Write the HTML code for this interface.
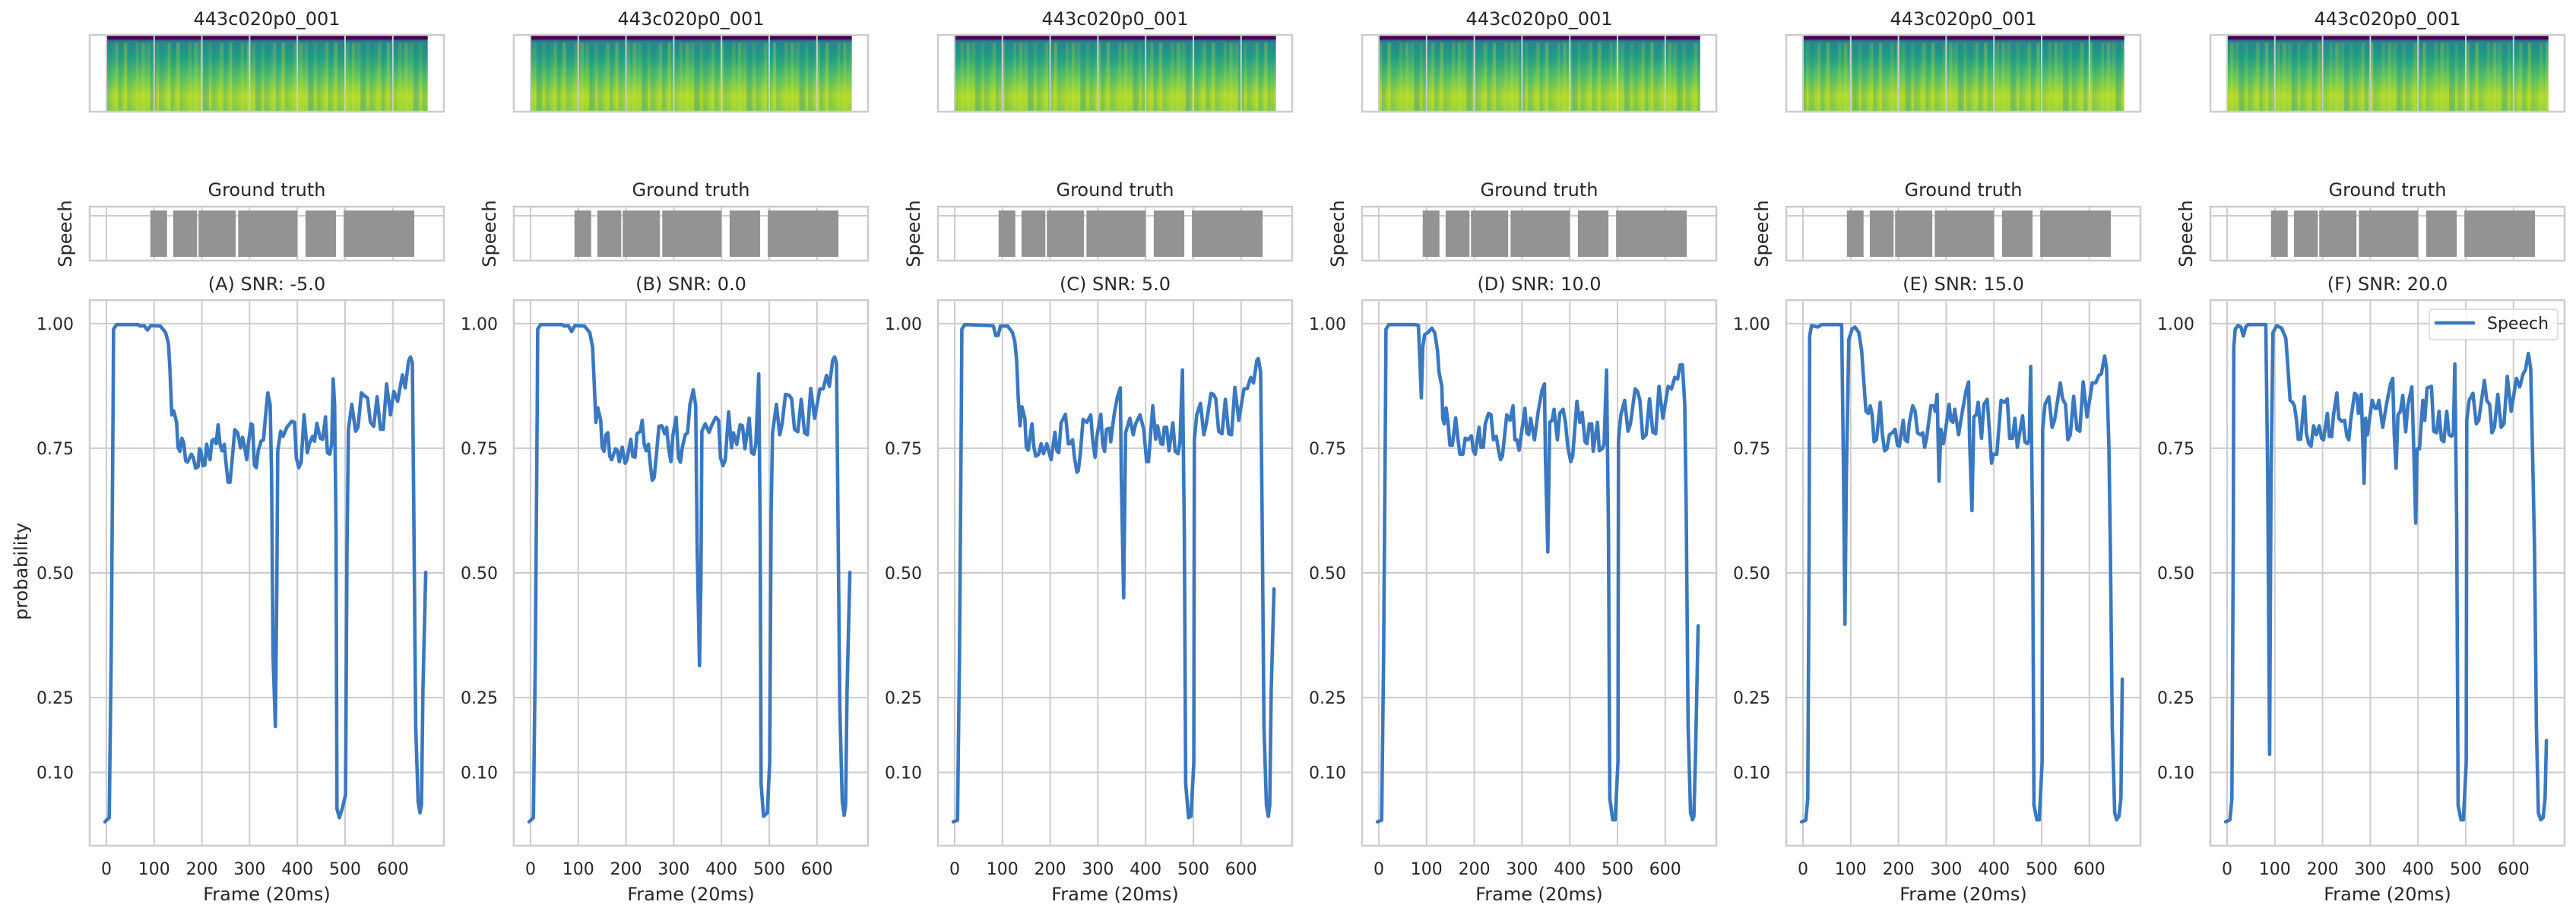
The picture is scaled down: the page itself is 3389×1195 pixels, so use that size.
<!DOCTYPE html>
<html><head><meta charset="utf-8">
<style>
html,body{margin:0;padding:0;background:#fff;}
svg{display:block;font-family:"DejaVu Sans","Liberation Sans",sans-serif;}
</style></head>
<body>
<svg id="fig" width="3389" height="1195" viewBox="0 0 3389 1195" xmlns="http://www.w3.org/2000/svg">
<defs>
<linearGradient id="specGrad" x1="0" y1="0" x2="0" y2="1">
<stop offset="0" stop-color="#440154"/>
<stop offset="0.05" stop-color="#3b3f85"/>
<stop offset="0.09" stop-color="#26858e"/>
<stop offset="0.3" stop-color="#23a085"/>
<stop offset="0.55" stop-color="#5ec462"/>
<stop offset="0.8" stop-color="#b0da30"/>
<stop offset="1" stop-color="#8fd444"/>
</linearGradient>
</defs>
</svg>
<script>
// ---- data ----
const panelTitles = ["(A) SNR: -5.0","(B) SNR: 0.0","(C) SNR: 5.0","(D) SNR: 10.0","(E) SNR: 15.0","(F) SNR: 20.0"];
const specTitle = "443c020p0_001";
const xTicks = [0,100,200,300,400,500,600];
const yTicks = [0.10,0.25,0.50,0.75,1.00];
const yTickLabels = ["0.10","0.25","0.50","0.75","1.00"];
const gtStart = [92,140,193,276,417,497];
const gtEnd   = [127,190,271,400,481,645];

const seriesA = [[-3,0.001],[6,0.009],[10,0.335],[14,0.838],[15,0.989],[21,0.998],[66,0.998],[71,0.995],[79,0.996],[86,0.987],[93,0.996],[113,0.995],[124,0.982],[130,0.960],[133,0.910],[137,0.817],[141,0.825],[147,0.802],[150,0.752],[154,0.744],[158,0.770],[162,0.761],[166,0.725],[170,0.722],[178,0.738],[182,0.731],[187,0.710],[192,0.713],[195,0.749],[198,0.745],[202,0.715],[206,0.716],[210,0.758],[214,0.738],[217,0.727],[221,0.765],[225,0.768],[230,0.759],[234,0.797],[238,0.758],[242,0.745],[247,0.758],[251,0.716],[255,0.682],[259,0.682],[263,0.723],[269,0.787],[275,0.781],[281,0.751],[285,0.772],[289,0.756],[294,0.727],[298,0.763],[303,0.799],[306,0.797],[310,0.716],[314,0.711],[318,0.745],[324,0.764],[329,0.767],[334,0.820],[338,0.861],[343,0.838],[346,0.695],[349,0.335],[354,0.192],[357,0.479],[359,0.745],[365,0.784],[370,0.774],[378,0.792],[388,0.804],[394,0.802],[398,0.731],[403,0.711],[408,0.722],[414,0.817],[421,0.741],[425,0.759],[432,0.774],[436,0.764],[441,0.800],[448,0.770],[453,0.768],[459,0.813],[463,0.741],[468,0.738],[472,0.759],[475,0.889],[478,0.838],[481,0.587],[483,0.027],[488,0.009],[494,0.027],[501,0.055],[504,0.551],[507,0.788],[514,0.838],[522,0.784],[527,0.792],[534,0.861],[542,0.854],[547,0.851],[553,0.802],[560,0.794],[567,0.853],[574,0.788],[580,0.788],[587,0.879],[595,0.817],[602,0.864],[610,0.844],[620,0.897],[626,0.871],[633,0.925],[637,0.933],[641,0.921],[644,0.623],[648,0.192],[653,0.041],[657,0.019],[660,0.034],[663,0.264],[669,0.501]];

const seriesB = [[-3,0.001],[6,0.009],[10,0.335],[14,0.838],[15,0.989],[21,0.998],[66,0.998],[71,0.995],[79,0.996],[86,0.984],[93,0.996],[113,0.995],[124,0.982],[130,0.953],[133,0.889],[137,0.802],[141,0.831],[147,0.806],[150,0.752],[154,0.744],[158,0.777],[162,0.781],[166,0.734],[170,0.727],[178,0.749],[182,0.745],[186,0.723],[192,0.752],[198,0.720],[202,0.727],[210,0.768],[214,0.734],[219,0.732],[223,0.779],[230,0.784],[234,0.806],[238,0.759],[242,0.745],[247,0.758],[251,0.716],[255,0.686],[259,0.691],[263,0.731],[269,0.794],[275,0.795],[281,0.779],[285,0.792],[289,0.752],[294,0.723],[298,0.774],[305,0.812],[310,0.731],[314,0.722],[318,0.752],[324,0.777],[329,0.781],[334,0.838],[341,0.867],[346,0.835],[349,0.551],[354,0.314],[357,0.494],[359,0.784],[366,0.799],[374,0.782],[379,0.795],[388,0.812],[394,0.806],[398,0.731],[403,0.715],[408,0.727],[415,0.823],[421,0.751],[425,0.781],[432,0.758],[439,0.797],[444,0.795],[449,0.749],[458,0.810],[463,0.741],[468,0.738],[472,0.759],[478,0.899],[481,0.587],[483,0.077],[488,0.012],[496,0.019],[501,0.120],[504,0.623],[507,0.781],[515,0.838],[522,0.777],[527,0.799],[534,0.858],[542,0.856],[547,0.849],[553,0.788],[560,0.783],[567,0.848],[574,0.781],[580,0.777],[587,0.870],[595,0.810],[606,0.869],[613,0.869],[620,0.896],[626,0.874],[633,0.926],[637,0.933],[641,0.921],[644,0.623],[648,0.228],[653,0.041],[657,0.014],[660,0.034],[663,0.264],[669,0.501]];

const seriesC = [[-3,0.001],[6,0.004],[10,0.335],[14,0.838],[15,0.989],[21,0.998],[76,0.996],[81,0.995],[86,0.976],[91,0.976],[96,0.995],[111,0.995],[121,0.982],[126,0.964],[130,0.925],[133,0.853],[137,0.795],[141,0.833],[147,0.810],[150,0.752],[154,0.746],[162,0.799],[166,0.752],[170,0.734],[176,0.738],[181,0.759],[186,0.739],[193,0.759],[198,0.741],[202,0.727],[210,0.782],[214,0.745],[218,0.741],[223,0.801],[232,0.818],[238,0.759],[242,0.759],[247,0.767],[251,0.731],[256,0.702],[259,0.705],[263,0.738],[269,0.808],[277,0.802],[285,0.817],[289,0.767],[294,0.732],[298,0.774],[306,0.818],[310,0.759],[314,0.744],[318,0.788],[325,0.790],[327,0.763],[334,0.817],[341,0.853],[347,0.871],[349,0.695],[354,0.450],[358,0.781],[367,0.810],[374,0.777],[379,0.799],[388,0.817],[396,0.788],[402,0.723],[406,0.723],[415,0.835],[421,0.768],[425,0.795],[432,0.759],[436,0.758],[439,0.792],[444,0.792],[449,0.745],[457,0.801],[462,0.744],[468,0.739],[472,0.763],[477,0.907],[481,0.587],[484,0.077],[490,0.009],[495,0.012],[501,0.120],[502,0.767],[507,0.817],[515,0.840],[522,0.777],[527,0.799],[537,0.860],[542,0.858],[547,0.849],[553,0.784],[560,0.779],[567,0.848],[574,0.779],[580,0.777],[587,0.872],[595,0.806],[606,0.869],[613,0.870],[620,0.892],[626,0.881],[633,0.926],[636,0.930],[641,0.903],[644,0.623],[648,0.192],[653,0.034],[657,0.012],[660,0.034],[663,0.264],[669,0.468]];

const seriesD = [[-3,0.001],[6,0.004],[10,0.335],[14,0.838],[15,0.989],[21,0.998],[76,0.998],[83,0.996],[86,0.925],[89,0.851],[92,0.953],[96,0.978],[103,0.982],[111,0.991],[117,0.982],[123,0.946],[126,0.903],[132,0.874],[134,0.810],[137,0.799],[141,0.831],[145,0.802],[149,0.756],[154,0.756],[161,0.811],[165,0.774],[170,0.738],[176,0.738],[181,0.770],[187,0.767],[194,0.775],[198,0.745],[202,0.738],[210,0.792],[214,0.752],[219,0.752],[223,0.799],[230,0.820],[235,0.817],[240,0.767],[246,0.774],[251,0.745],[255,0.727],[259,0.734],[268,0.817],[275,0.806],[281,0.835],[285,0.767],[289,0.767],[294,0.746],[298,0.774],[306,0.830],[310,0.781],[314,0.777],[318,0.810],[326,0.767],[334,0.824],[342,0.867],[347,0.879],[349,0.731],[354,0.542],[358,0.802],[363,0.806],[367,0.828],[374,0.767],[379,0.820],[386,0.828],[391,0.802],[396,0.752],[402,0.723],[406,0.734],[415,0.844],[421,0.802],[426,0.822],[432,0.763],[436,0.759],[441,0.799],[446,0.799],[449,0.744],[458,0.802],[462,0.745],[468,0.749],[472,0.759],[477,0.907],[481,0.587],[484,0.048],[490,0.005],[495,0.005],[501,0.120],[502,0.767],[507,0.817],[515,0.846],[522,0.784],[527,0.799],[537,0.869],[542,0.864],[547,0.846],[553,0.770],[560,0.777],[567,0.849],[574,0.782],[580,0.779],[587,0.874],[595,0.810],[606,0.874],[613,0.869],[620,0.892],[626,0.889],[631,0.917],[636,0.917],[641,0.838],[644,0.623],[648,0.192],[653,0.019],[657,0.005],[660,0.012],[663,0.120],[669,0.394]];

const seriesE = [[-3,0.001],[6,0.004],[10,0.048],[13,0.551],[14,0.975],[18,0.996],[31,0.993],[39,0.998],[81,0.998],[85,0.695],[88,0.397],[91,0.695],[96,0.968],[103,0.989],[109,0.993],[117,0.982],[123,0.946],[126,0.903],[132,0.824],[137,0.820],[141,0.835],[145,0.817],[149,0.763],[154,0.767],[162,0.842],[166,0.781],[171,0.745],[176,0.749],[181,0.777],[187,0.781],[193,0.788],[198,0.756],[202,0.754],[210,0.806],[214,0.767],[219,0.763],[223,0.802],[230,0.835],[235,0.824],[240,0.781],[246,0.777],[251,0.781],[255,0.752],[259,0.770],[268,0.835],[275,0.835],[277,0.824],[281,0.858],[285,0.684],[289,0.788],[294,0.759],[298,0.781],[306,0.838],[310,0.806],[314,0.802],[318,0.828],[326,0.777],[334,0.824],[342,0.867],[347,0.883],[349,0.767],[354,0.625],[358,0.813],[363,0.817],[367,0.842],[374,0.770],[379,0.838],[386,0.848],[391,0.781],[395,0.720],[399,0.738],[406,0.738],[415,0.846],[423,0.842],[428,0.849],[433,0.770],[439,0.770],[444,0.810],[449,0.752],[460,0.815],[465,0.763],[470,0.759],[474,0.767],[477,0.914],[481,0.587],[484,0.034],[490,0.005],[495,0.005],[501,0.120],[502,0.788],[507,0.838],[515,0.853],[522,0.792],[527,0.806],[539,0.881],[544,0.849],[550,0.838],[555,0.767],[560,0.777],[567,0.854],[574,0.788],[580,0.784],[587,0.883],[595,0.813],[606,0.881],[613,0.881],[620,0.896],[625,0.899],[632,0.935],[636,0.910],[641,0.752],[644,0.551],[648,0.192],[653,0.019],[657,0.005],[662,0.012],[666,0.048],[669,0.287]];

const seriesF = [[-3,0.001],[6,0.005],[10,0.048],[13,0.551],[14,0.953],[17,0.989],[23,0.996],[29,0.993],[34,0.975],[39,0.993],[44,0.998],[81,0.998],[85,0.695],[89,0.136],[92,0.695],[96,0.982],[104,0.996],[114,0.991],[123,0.971],[126,0.932],[132,0.846],[137,0.842],[141,0.835],[145,0.810],[149,0.768],[154,0.768],[162,0.853],[166,0.781],[171,0.759],[176,0.754],[181,0.795],[187,0.777],[193,0.795],[198,0.770],[202,0.767],[210,0.820],[214,0.774],[219,0.773],[223,0.817],[230,0.861],[234,0.810],[240,0.804],[246,0.806],[251,0.774],[255,0.767],[259,0.806],[267,0.860],[272,0.856],[275,0.820],[281,0.858],[287,0.680],[290,0.810],[294,0.777],[298,0.806],[304,0.846],[310,0.830],[314,0.830],[318,0.846],[326,0.792],[334,0.838],[342,0.878],[347,0.890],[350,0.781],[354,0.710],[358,0.817],[363,0.824],[368,0.856],[374,0.783],[379,0.838],[387,0.873],[391,0.752],[395,0.600],[398,0.749],[403,0.749],[410,0.846],[414,0.806],[419,0.871],[428,0.874],[433,0.784],[439,0.781],[444,0.824],[449,0.767],[454,0.763],[460,0.824],[465,0.777],[470,0.774],[474,0.781],[477,0.919],[481,0.587],[484,0.034],[490,0.005],[495,0.005],[501,0.120],[502,0.806],[507,0.846],[515,0.860],[522,0.799],[527,0.806],[539,0.886],[544,0.846],[550,0.838],[555,0.781],[560,0.792],[567,0.858],[574,0.792],[580,0.799],[587,0.894],[595,0.824],[606,0.890],[613,0.873],[620,0.899],[625,0.907],[631,0.940],[636,0.910],[641,0.695],[644,0.551],[648,0.192],[652,0.019],[657,0.005],[662,0.009],[666,0.048],[669,0.164]];

const allSeries = [seriesA,seriesB,seriesC,seriesD,seriesE,seriesF];
const xMin = -35, xMax = 707, yMin = -0.047, yMax = 1.047;

// ---- drawing ----
const NS = "http://www.w3.org/2000/svg";
const svg = document.getElementById('fig');
function mk(tag, attrs, parent, text){
  const e = document.createElementNS(NS, tag);
  for (const k in attrs) e.setAttribute(k, attrs[k]);
  if (text !== undefined) e.textContent = text;
  (parent||svg).appendChild(e);
  return e;
}
const PANEL_STEP = 558, AX_L = 118, AX_W = 466;
const AX_T = 395, AX_B = 1113;
const GT_T = 272, GT_B = 343, SP_T = 46, SP_B = 147;
const GRID = "#cccccc", TXT = "#262626";
const specPattern = [0.2,0.6,0.35,0.8,0.1,0.5,0.9,0.3,0.7,0.45,0.15,0.65,0.85,0.25,0.55,0.05,0.75,0.4];

for (let p = 0; p < 6; p++){
  const off = p*PANEL_STEP;
  const L = AX_L+off, R = L+AX_W;
  const xs = f => L + (f - xMin)/(xMax - xMin)*AX_W;
  const ys = v => AX_B - (v - yMin)/(yMax - yMin)*(AX_B - AX_T);
  const cx = L + AX_W/2;
  const g = mk('g', {}, svg);
  
  

  // ---- spectrogram ----
  const st = mk('text', {x:cx, y:33, 'text-anchor':'middle', 'font-size':24, fill:TXT}, g, specTitle);
  
  
  const sg = mk('g', {}, g);
  
  
  const s0 = xs(0), s1 = xs(673);
  mk('rect', {x:s0, y:SP_T, width:s1-s0, height:SP_B-SP_T, fill:'url(#specGrad)'}, sg);
  const nStripe = 110, sw = (s1-s0)/nStripe;
  for (let i = 0; i < nStripe; i++){
    const a = specPattern[(i*7+p) % specPattern.length];
    const col = a > 0.5 ? '#e0e41a' : '#1f8f8c';
    mk('rect', {x:s0+i*sw, y:SP_T+10, width:sw+0.5, height:SP_B-SP_T-10, fill:col, opacity:(Math.abs(a-0.5)*0.7).toFixed(2)}, sg);
  }
  mk('rect', {x:s0, y:SP_T, width:s1-s0, height:6, fill:'#440154', opacity:0.9}, sg);
  xTicks.forEach(t => mk('line', {x1:xs(t), x2:xs(t), y1:SP_T, y2:SP_B, stroke:GRID, 'stroke-width':2}, sg));
  mk('rect', {x:L, y:SP_T, width:AX_W, height:SP_B-SP_T, fill:'none', stroke:GRID, 'stroke-width':2.5}, sg);

  // ---- ground truth ----
  const gt = mk('text', {x:cx, y:258, 'text-anchor':'middle', 'font-size':24, fill:TXT}, g, 'Ground truth');
  
  
  const gg = mk('g', {}, g);
  
  
  xTicks.forEach(t => mk('line', {x1:xs(t), x2:xs(t), y1:GT_T, y2:GT_B, stroke:GRID, 'stroke-width':2}, gg));
  mk('line', {x1:L, x2:R, y1:284, y2:284, stroke:GRID, 'stroke-width':2}, gg);
  for (let i = 0; i < gtStart.length; i++){
    const b = mk('rect', {x:xs(gtStart[i]), y:277, width:xs(gtEnd[i])-xs(gtStart[i]), height:61, fill:'#939492'}, gg);
    
    
  }
  mk('rect', {x:L, y:GT_T, width:AX_W, height:GT_B-GT_T, fill:'none', stroke:GRID, 'stroke-width':2.5}, gg);
  const gl = mk('text', {x:0, y:0, 'text-anchor':'middle', 'font-size':24, fill:TXT, transform:`translate(${L-24},${(GT_T+GT_B)/2}) rotate(-90)`}, g, 'Speech');
  
  

  // ---- probability plot ----
  const pt = mk('text', {x:cx, y:382, 'text-anchor':'middle', 'font-size':24, fill:TXT}, g, panelTitles[p]);
  
  
  const grid = mk('g', {}, g);
  
  
  xTicks.forEach((t,i) => {
    mk('line', {x1:xs(t), x2:xs(t), y1:AX_T, y2:AX_B, stroke:GRID, 'stroke-width':2}, grid);
    const tl = mk('text', {x:xs(t), y:1151, 'text-anchor':'middle', 'font-size':22, fill:TXT}, g, String(t));
    
    
  });
  yTicks.forEach((t,i) => {
    mk('line', {x1:L, x2:R, y1:ys(t), y2:ys(t), stroke:GRID, 'stroke-width':2}, grid);
    const tl = mk('text', {x:L-21, y:ys(t)+8, 'text-anchor':'end', 'font-size':22, fill:TXT}, g, yTickLabels[i]);
    
    
  });
  const sp = mk('rect', {x:L, y:AX_T, width:AX_W, height:AX_B-AX_T, fill:'none', stroke:GRID, 'stroke-width':2.5}, g);
  
  
  const d = allSeries[p].map((q,i) => (i?'L':'M') + xs(q[0]).toFixed(1) + ',' + ys(q[1]).toFixed(1)).join(' ');
  const line = mk('path', {d:d, fill:'none', stroke:'#3a78c0', 'stroke-width':4.6, 'stroke-linejoin':'round', 'stroke-linecap':'round'}, g);
  
  
  const xl = mk('text', {x:cx, y:1185, 'text-anchor':'middle', 'font-size':24, fill:TXT}, g, 'Frame (20ms)');
  
  
  if (p === 0){
    const yl = mk('text', {x:0, y:0, 'text-anchor':'middle', 'font-size':24, fill:TXT, transform:`translate(36,752) rotate(-90)`}, g, 'probability');
    
    
  }
  if (p === 5){
    const lg = mk('g', {}, g);
    
    
    mk('rect', {x:3196, y:407, width:169, height:40, rx:4, fill:'#ffffff', 'fill-opacity':0.85, stroke:'#d6d6d6', 'stroke-width':1.5}, lg);
    mk('line', {x1:3205, x2:3254, y1:425, y2:425, stroke:'#3a78c0', 'stroke-width':4.6, 'stroke-linecap':'round'}, lg);
    const lt = mk('text', {x:3272, y:433, 'font-size':22, fill:TXT}, lg, 'Speech');
    
    
  }
}
</script>
</body></html>
